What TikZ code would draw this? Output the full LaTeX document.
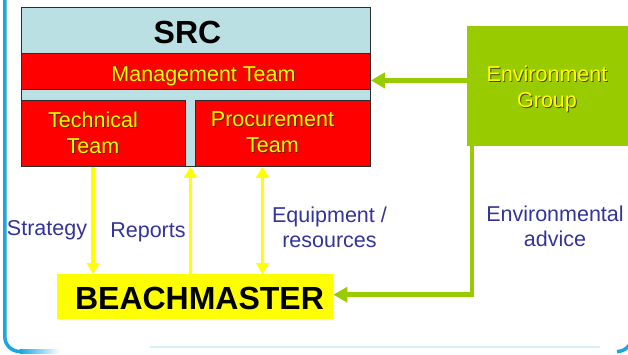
\documentclass[tikz,border=0pt]{standalone}
\usepackage{fontspec}
\setmainfont{Liberation Sans}
\usetikzlibrary{arrows.meta,calc}

\definecolor{srcblue}{RGB}{187,224,228}
\definecolor{teamred}{RGB}{255,0,0}
\definecolor{txtyellow}{RGB}{255,255,0}
\definecolor{envgreen}{RGB}{153,204,0}
\definecolor{labelblue}{RGB}{51,51,153}
\definecolor{frameblue}{RGB}{26,167,225}
\definecolor{faintcyan}{RGB}{215,240,248}
\definecolor{boxedge}{RGB}{45,45,45}
\definecolor{envshadow}{RGB}{70,70,20}
\definecolor{redshadow}{RGB}{120,20,0}

% yellow text with a small drop shadow
\newcommand\shtext[2][redshadow]{\leavevmode\rlap{\kern0.9pt\raisebox{-0.9pt}{\textcolor{#1}{#2}}}#2}

\tikzset{
  box/.style={draw=boxedge, line width=0.8pt, inner sep=0pt, anchor=north west},
  teambox/.style={box, fill=teamred},
  teamtext/.style={text=txtyellow, align=center, inner sep=0pt,
    font=\fontsize{21.5}{26}\selectfont},
  flowlabel/.style={text=labelblue, align=center, inner sep=0pt,
    font=\fontsize{21.5}{25}\selectfont},
  yarrow/.style={draw=txtyellow, line width=3.8pt,
    -{Triangle[width=12.5pt,length=11pt]}},
  ydouble/.style={draw=txtyellow, line width=3.8pt,
    {Triangle[width=12.5pt,length=11pt]}-{Triangle[width=12.5pt,length=11pt]}},
  garrow/.style={draw=envgreen, line width=4.5pt,
    -{Triangle[width=15pt,length=14pt]}},
}

\begin{document}
\begin{tikzpicture}[x=1pt,y=-1pt]
\useasboundingbox (0,0) rectangle (628,354);

% outer frame
\draw[frameblue, line width=3.5pt] (4.8,-5) -- (4.8,336.5)
  arc[start angle=180, end angle=90, radius=15];
\shade[left color=frameblue, right color=white] (19.6,349.75) rectangle (60,353.25);
\draw[faintcyan, line width=1.5pt] (150,347) -- (600,347);
\draw[frameblue, line width=3.5pt] (617,351.5)
  arc[start angle=90, end angle=0, radius=15] -- (632,300);

% SRC block
\node[box, fill=srcblue, minimum width=349pt, minimum height=159pt] (src) at (21,7) {};
\node[anchor=base, inner sep=0pt, font=\fontsize{32}{36}\selectfont\bfseries] (srctitle) at (187.5,43) {SRC};
\node[teambox, minimum width=349pt, minimum height=36pt] (mgmt) at (21,53) {};
\node[teamtext, anchor=base] (mgmttext) at (203.5,81) {\shtext{Management Team}};
\node[teambox, minimum width=164pt, minimum height=66pt] (tech) at (21,100) {};
\node[teamtext] (techtext) at (93,133) {\shtext{Technical}\\\shtext{Team}};
\node[teambox, minimum width=175pt, minimum height=66pt] (proc) at (195,100) {};
\node[teamtext] (proctext) at (272.5,133) {\shtext{Procurement}\\\shtext{Team}};
\coordinate (gap) at ($(tech.south east)!0.5!(proc.south west)$);

% environment group
\node[anchor=north west, fill=envgreen, inner sep=0pt, minimum width=161pt, minimum height=120pt] (env) at (467,26) {};
\node[teamtext] (envtext) at (547,89) {\shtext[envshadow]{Environment}\\\shtext[envshadow]{Group}};

% beachmaster
\node[anchor=north west, fill=txtyellow, inner sep=0pt, minimum width=276pt, minimum height=45pt] (beach) at (57,274) {};
\node[anchor=base, inner sep=0pt, font=\fontsize{32}{36}\selectfont\bfseries] (beachtext) at (199.5,309.5) {BEACHMASTER};

% flows between the teams and the beachmaster
\draw[yarrow] (tech.south -| techtext) -- (beach.north -| techtext);
\draw[yarrow] (beach.north -| gap) -- (gap);
\coordinate (equip) at ([xshift=-20.5pt]proc.south);
\draw[ydouble] (equip) -- (beach.north -| equip);

% environmental advice
\coordinate (advin) at ([yshift=-9pt]mgmt.east);
\draw[garrow] (env.west |- advin) -- (advin);
\coordinate (envdrop) at ([xshift=5pt]env.south west);
\coordinate (beachin) at ([yshift=2pt]beach.east);
\draw[garrow] (envdrop) |- (beachin);

% flow labels
\node[flowlabel, anchor=base] (strat) at (47,235) {Strategy};
\node[flowlabel, anchor=base] (reports) at (148,237) {Reports};
\node[flowlabel] (equiplbl) at (329.5,227) {Equipment /\\resources};
\node[flowlabel] (advlbl) at (555,226.7) {Environmental\\advice};
\end{tikzpicture}
\end{document}
